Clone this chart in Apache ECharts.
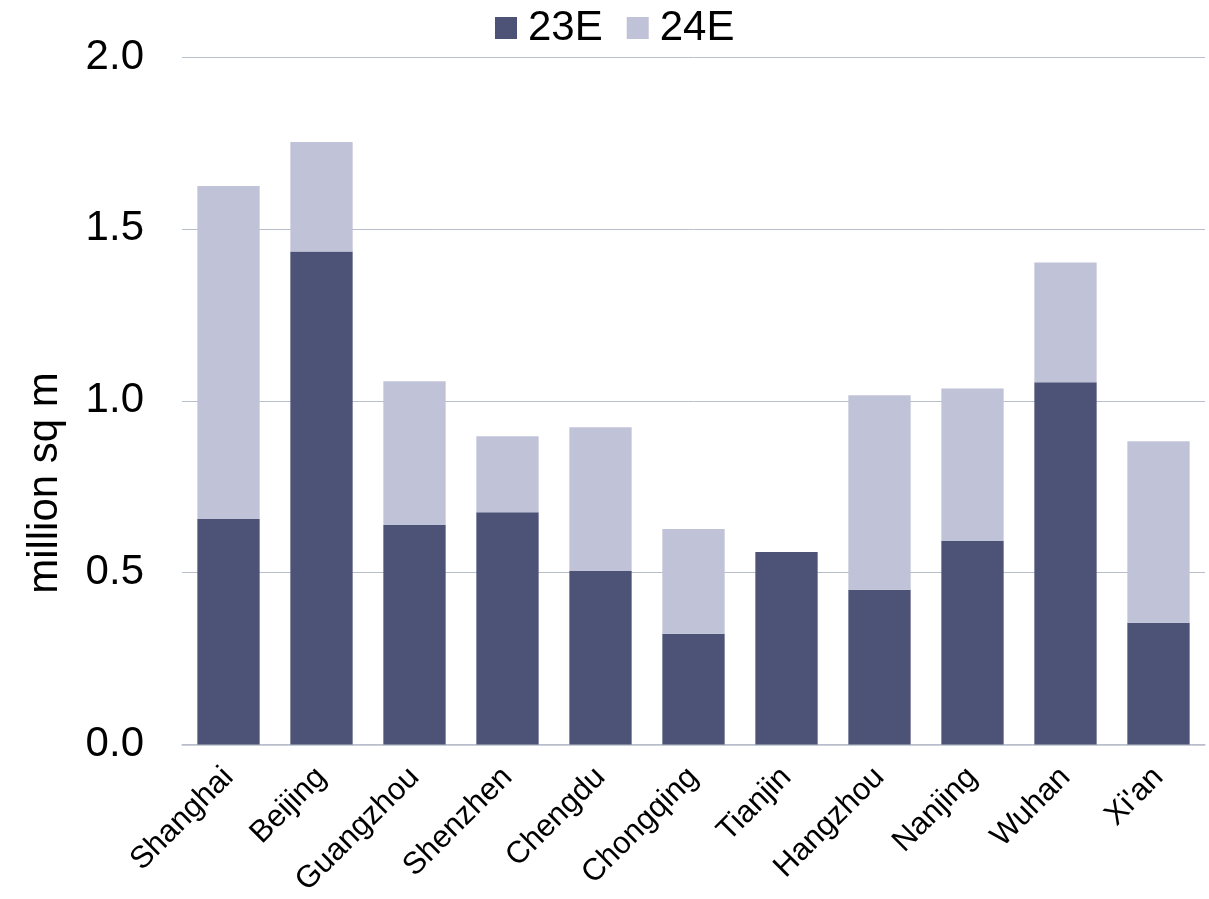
<!DOCTYPE html>
<html>
<head>
<meta charset="utf-8">
<script src="https://cdn.jsdelivr.net/npm/echarts@6/dist/echarts.min.js"></script>
<style>
  html, body { margin: 0; padding: 0; background: #fff; }
  #main { width: 1209px; height: 899px; }
</style>
</head>
<body>
<div id="main"></div>
<script>
// 城市 / categories
const cities = ['Shanghai', 'Beijing', 'Guangzhou', 'Shenzhen', 'Chengdu', 'Chongqing',
  'Tianjin', 'Hangzhou', 'Nanjing', 'Wuhan', "Xi'an"]
// stacked pieces, million sq m
const e23 = [0.656, 1.434, 0.639, 0.676, 0.505, 0.322, 0.560, 0.450, 0.592, 1.054, 0.354]
const e24 = [0.969, 0.319, 0.418, 0.221, 0.418, 0.305, 0, 0.566, 0.444, 0.348, 0.528]
const yTicks = [0, 0.5, 1.0, 1.5, 2.0]

const font = 'Liberation Sans, Arial, sans-serif'
const chart = echarts.init(document.getElementById('main'))

const option = {
  animation: false,
  color: ['#4d5277', '#c0c2d8'],
  legend: {
    left: 490,
    top: 2,
    itemWidth: 22,
    itemHeight: 22,
    itemGap: 24,
    icon: 'rect',
    textStyle: { fontFamily: font, fontSize: 42, color: '#000', padding: [0, 0, 0, 6] },
    data: ['23E', '24E']
  },
  grid: { left: 182, right: 4, top: 57, bottom: 153 },
  xAxis: {
    type: 'category',
    data: cities,
    axisLine: { lineStyle: { color: '#b9bfca', width: 1.5 } },
    axisTick: { show: false },
    axisLabel: {
      interval: 0,
      rotate: 45,
      margin: 28,
      fontFamily: font,
      fontSize: 31,
      color: '#000'
    }
  },
  yAxis: {
    type: 'value',
    min: yTicks[0],
    max: yTicks[yTicks.length - 1],
    interval: 0.5,
    axisLine: { show: false },
    axisTick: { show: false },
    splitLine: { lineStyle: { color: '#b9bfca', width: 1 } },
    axisLabel: {
      margin: 38,
      fontFamily: font,
      fontSize: 42,
      color: '#000',
      formatter: v => v.toFixed(1)
    }
  },
  graphic: [
    {
      type: 'text',
      x: 45,
      y: 483,
      rotation: Math.PI / 2,
      style: {
        text: 'million sq m',
        font: '42px ' + font,
        fill: '#000',
        align: 'center',
        verticalAlign: 'middle'
      }
    }
  ],
  series: [
    { name: '23E', type: 'bar', stack: 'a', barWidth: '67%', data: e23 },
    { name: '24E', type: 'bar', stack: 'a', barWidth: '67%', data: e24 }
  ]
}
chart.setOption(option)
</script>
</body>
</html>
